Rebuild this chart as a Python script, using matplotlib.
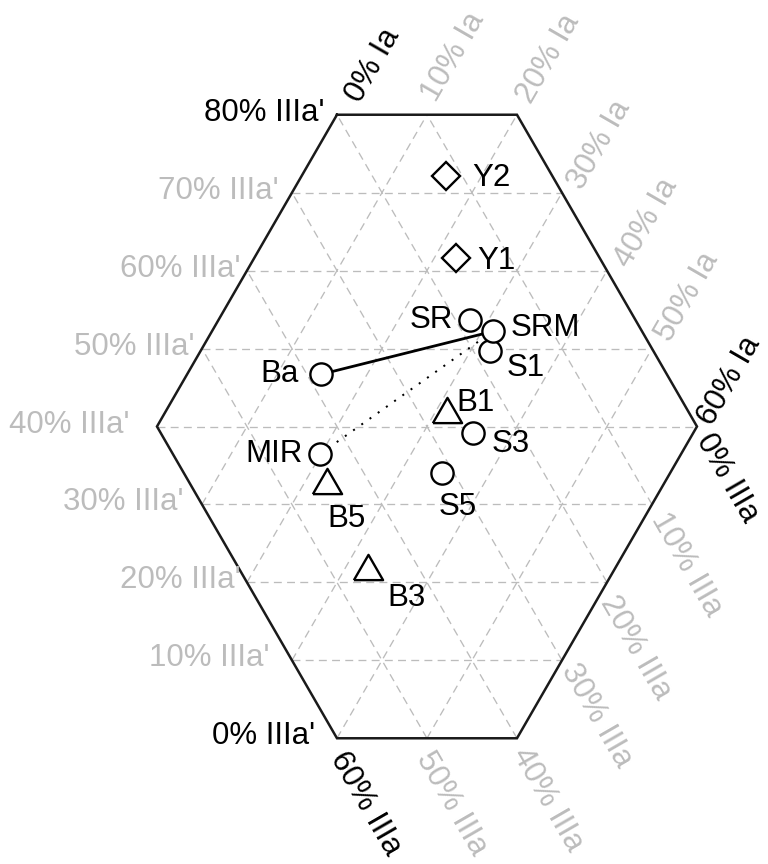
import numpy as np
import matplotlib
matplotlib.use("Agg")
import matplotlib.pyplot as plt
from matplotlib.transforms import Affine2D

# Composition of each sample (percent of Ia, IIIa and IIIa')
names = ["Y2", "Y1", "SR", "S1", "SRM", "Ba", "B1", "S3", "MIR", "B5", "S5", "B3"]
ia = [16.1, 22.4, 27.9, 32.1, 31.2, 14.9, 31.2, 35.5, 19.9, 22.4, 34.7, 32.4]
iiia = [11.8, 16.0, 18.4, 18.2, 16.6, 38.4, 26.7, 25.3, 43.6, 44.6, 31.3, 45.6]
iiia_p = [72.1, 61.6, 53.7, 49.7, 52.2, 46.7, 42.1, 39.2, 36.5, 33.0, 34.0, 22.0]
groups = ["Y", "Y", "S", "S", "S", "S", "B", "S", "S", "B", "S", "B"]

# Tick values of the three axes
ia_ticks = [0, 10, 20, 30, 40, 50, 60]
iiia_ticks = [0, 10, 20, 30, 40, 50, 60]
iiia_p_ticks = [0, 10, 20, 30, 40, 50, 60, 70, 80]

# Connections between samples
solid_link = ("Ba", "SRM")
dotted_link = ("MIR", "SRM")

plt.rcParams["font.family"] = ["Liberation Sans", "DejaVu Sans"]
FS = 22.5
GREY = "#bcbcbc"

fig = plt.figure(figsize=(7.68, 8.64), dpi=100)
ax = fig.add_axes([0, 0, 1, 1])
ax.set_xlim(2.56, 87.89)
ax.set_ylim(-13.97, 82.03)
ax.set_aspect("equal")
ax.axis("off")

# (Ia, IIIa') -> planar position of an equilateral ternary grid
shear = Affine2D(np.array([[1.0, 0.5, 0.0],
                           [0.0, np.sqrt(3) / 2, 0.0],
                           [0.0, 0.0, 1.0]]))
tern = shear + ax.transData

grid_kw = dict(color=GREY, lw=0.95, linestyle=(0, (6, 4)), transform=tern, zorder=1)
for c in iiia_p_ticks[1:-1]:
    ax.plot([max(0, 40 - c), min(60, 100 - c)], [c, c], **grid_kw)
for a in ia_ticks[1:-1]:
    ax.plot([a, a], [max(0, 40 - a), min(80, 100 - a)], **grid_kw)
for b in iiia_ticks[1:-1]:
    lo, hi = max(0, 40 - b), min(80, 100 - b)
    ax.plot([100 - b - lo, 100 - b - hi], [lo, hi], **grid_kw)

# Hexagonal frame
hex_ia = [0, 20, 60, 60, 40, 0, 0]
hex_p = [80, 80, 40, 0, 0, 40, 80]
ax.plot(hex_ia, hex_p, color="#1a1a1a", lw=1.8, transform=tern, zorder=2,
        solid_joinstyle="miter")

# IIIa' labels along the left side (gap to the frame, pixels)
left_gaps = {0: 22, 10: 22, 20: 6, 30: 18, 40: 27, 50: 7, 60: 6, 70: 13, 80: 12}
for c in iiia_p_ticks:
    col = "black" if c in (0, 80) else GREY
    ax.annotate(f"{c}% IIIa'", xy=(max(0, 40 - c), c), xycoords=tern,
                xytext=(-left_gaps[c], 2), textcoords="offset pixels",
                ha="right", va="center", fontsize=FS, color=col)

# Ia labels along the top / upper-right side:
# (distance along the grid line, sideways shift) in pixels
ia_lab_off = [(61, 6.7), (63.5, -6.6), (64, -1.2), (60, 9), (60.5, 10), (62, 4.8), (56, 5)]
along = np.array([0.5, 0.866])
side = np.array([0.866, -0.5])
for a, (s, p) in zip(ia_ticks, ia_lab_off):
    col = "black" if a in (0, 60) else GREY
    off = s * along + p * side
    ax.annotate(f"{a}% Ia", xy=(a, min(80, 100 - a)), xycoords=tern,
                xytext=tuple(off), textcoords="offset pixels",
                ha="center", va="center", rotation=60, rotation_mode="anchor",
                fontsize=FS, color=col)

# IIIa labels along the lower-right / bottom side
iiia_lab_off = [(60, 0), (69.5, 0), (70.5, -8), (65, 2), (69, -4), (69, -12), (71, -8)]
along = np.array([0.5, -0.866])
side = np.array([0.866, 0.5])
for b, (s, p) in zip(iiia_ticks, iiia_lab_off):
    col = "black" if b in (0, 60) else GREY
    lo = max(0, 40 - b)
    off = s * along + p * side
    ax.annotate(f"{b}% IIIa", xy=(100 - b - lo, lo), xycoords=tern,
                xytext=tuple(off), textcoords="offset pixels",
                ha="center", va="center", rotation=-60, rotation_mode="anchor",
                fontsize=FS, color=col)

idx = {n: i for i, n in enumerate(names)}

# Links between samples
i0, i1 = idx[solid_link[0]], idx[solid_link[1]]
ax.plot([ia[i0], ia[i1]], [iiia_p[i0], iiia_p[i1]], color="black", lw=2.0,
        transform=tern, zorder=3)
i0, i1 = idx[dotted_link[0]], idx[dotted_link[1]]
ax.plot([ia[i0], ia[i1]], [iiia_p[i0], iiia_p[i1]], color="black", lw=1.45,
        linestyle=(0, (1, 4)), transform=tern, zorder=3)

# Sample markers
tri = [(-1, -0.866), (1, -0.866), (0, 0.866), (-1, -0.866)]
marker_style = {
    "Y": dict(marker="D", ms=14.5),
    "S": dict(marker="o", ms=16),
    "B": dict(marker=tri, ms=21),
}
for i, n in enumerate(names):
    st = marker_style[groups[i]]
    ax.plot([ia[i]], [iiia_p[i]], linestyle="none", mfc="white", mec="black",
            mew=1.7, transform=tern, zorder=4 + i * 0.01, **st)

# Sample names
name_pos = {
    "Y2": (26, -2, "left"), "Y1": (21, -3, "left"),
    "SR": (-17, 0, "right"), "SRM": (18, 3, "left"),
    "S1": (17, -17, "left"), "Ba": (-22, 0, "right"),
    "B1": (9, 7, "left"), "S3": (19, -11, "left"),
    "MIR": (-18, 0, "right"), "B5": (0, -38, "left"),
    "S5": (-4, -34, "left"), "B3": (20, -31, "left"),
}
for i, n in enumerate(names):
    dx, dy, ha = name_pos[n]
    ax.annotate(n, xy=(ia[i], iiia_p[i]), xycoords=tern, xytext=(dx, dy),
                textcoords="offset pixels", ha=ha, va="center",
                fontsize=FS, color="black", zorder=6)

fig.savefig("out.png", dpi=100)
